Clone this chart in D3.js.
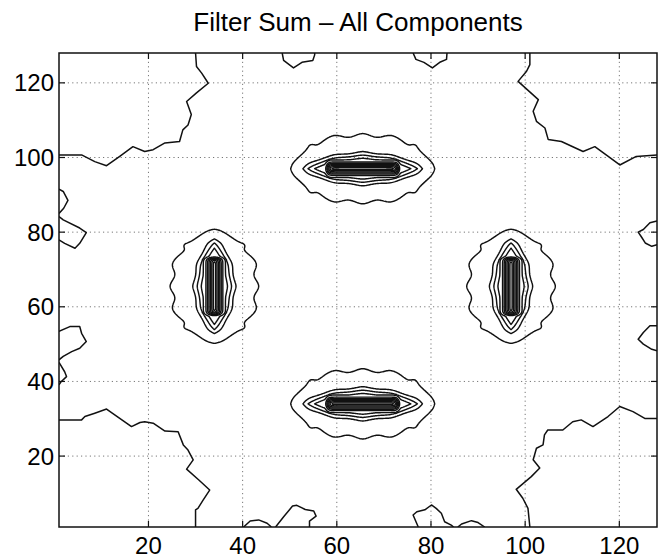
<!DOCTYPE html>
<html>
<head>
<meta charset="utf-8">
<script src="https://cdn.jsdelivr.net/npm/d3@7"></script>
<style>
  body { margin: 0; background: #fff; }
  text { font-family: "Liberation Sans", Arial, Helvetica, sans-serif; fill: #000; }
</style>
</head>
<body>
<div id="chart"></div>
<script>
// ---- data ----
var xTicks = [20, 40, 60, 80, 100, 120];
var yTicks = [20, 40, 60, 80, 100, 120];

// the four filter lobes: centre and the direction of the long axis
var blobX = [65.5, 65.5, 34, 97];
var blobY = [97, 34, 65.5, 65.5];
var blobLong = ["x", "x", "y", "y"];

// contour levels (outer rings, then the dense inner bar)
var outerLevels = [1.23e-4, 0.0101, 0.0273, 0.0672];
var barLevels = [0.32, 0.70, 1.2, 1.82, 2.43, 2.87];

// low level contour pieces near the corners and edges [x, y]
var cornerTL = [[1,100.7],[5.8,100.7],[8.6,98.9],[11.1,97.8],[13.9,100.3],[16.7,102.9],[19.2,101.6],[21,102.1],[23.5,103.9],[26.6,104.3],[27.3,107.4],[28.4,108.7],[29.1,111.5],[28.1,115],[30.2,117.3],[32.7,119.9],[31.3,122.6],[30.2,124.4],[30,128]];
var cornerTR = [[101,128],[101,124.9],[100.3,123.1],[98.5,120.4],[102.8,115.5],[101.7,112.4],[102.4,109.7],[104.2,107.9],[104.9,104.8],[107.7,104.3],[112.3,101.6],[114.8,102.9],[117.2,100.7],[120.1,98],[123.6,100.3],[128,100.7]];
var cornerBL = [[1,29.7],[5.8,29.7],[6.5,30.6],[8.6,31.5],[11.1,32.6],[13.9,30.1],[16.4,27.9],[18.2,29],[19.2,29.2],[21,28.8],[23.5,26.7],[26.3,26.5],[27.4,23],[28.4,21.6],[29.5,19],[28.1,16.5],[30.7,13.6],[33,10.9],[31.6,8.2],[30.5,6],[30,5.6],[30,1]];
var cornerBR = [[128,30.1],[125.4,30.1],[122.9,31.9],[120.1,33.3],[117.6,30.6],[114.4,27.9],[111.9,29.7],[110.1,29.2],[108,27],[104.8,27],[104.1,25.7],[103.8,23],[102.4,22.1],[101.7,19],[103.1,16.8],[101.3,14.5],[98.1,11.1],[99.5,8.7],[100.6,6],[101,1]];
var bumpB1 = [[40.2,1],[41.6,2.6],[43.4,2.9],[45.2,2.0],[46.1,1]];
var bumpB2 = [[47,1],[48.8,3.9],[50.6,6.6],[51.5,6.8],[53.3,5.7],[55.1,5.3],[55.6,3.9],[54.2,2.6],[54.2,1]];
var bumpB3 = [[77.3,1],[76.2,4.2],[77,5.1],[78.7,5.6],[80.1,6.9],[81.1,6],[82.2,4.7],[82.9,2.4],[84.3,1.5],[84.8,1]];
var bumpB4 = [[85.7,1],[86.5,1.8],[88.6,2.7],[90,2.2],[91.4,1]];
var bumpT1 = [[48.4,128],[48.7,126],[50.8,124],[52.6,125.5],[54.9,126],[55.3,127.5],[55.3,128]];
var bumpT2 = [[76.2,128],[76.8,126.3],[78.5,125.5],[80.3,124],[82,125.6],[83.3,126.3],[83.4,128]];
var bumpL1 = [[1,91.5],[1.9,90.9],[2.9,88.5],[2.0,86.4],[1,85]];
var bumpL2 = [[1,84.2],[1.9,83.3],[5.4,81.1],[6.8,79.9],[5.4,77],[4.4,75.7],[2.2,77],[1,77.9]];
var bumpL3 = [[1,53.4],[3.3,54.7],[5.4,54.7],[5.8,52.9],[6.8,50.7],[5.4,48.9],[3.7,48],[1.9,46.7],[1,45.8]];
var bumpL4 = [[1,45.1],[2.2,42.6],[2.6,41.3],[1.5,40],[1,39.1]];
var bumpR1 = [[128,83],[126.5,82.5],[125.1,80.7],[124,80],[124.6,78.9],[125.5,77.1],[126.9,76.2],[128,76.6]];
var bumpR2 = [[128,54.9],[126.5,54.9],[125.1,53.1],[124,51.3],[125.1,50],[126.9,48.6],[128,48.2]];
var edgeLines = [cornerTL, cornerTR, cornerBL, cornerBR, bumpB1, bumpB2, bumpB3, bumpB4,
                 bumpT1, bumpT2, bumpL1, bumpL2, bumpL3, bumpL4, bumpR1, bumpR2];

(function() {
  // ---- layout ----
  var W = 662, H = 558;
  var pLeft = 59, pRight = 657, pTop = 53, pBottom = 527;

  var svg = d3.select("#chart").append("svg")
      .attr("width", W).attr("height", H);

  var x = d3.scaleLinear().domain([1, 128]).range([pLeft, pRight]);
  var y = d3.scaleLinear().domain([1, 128]).range([pBottom, pTop]);

  svg.append("clipPath").attr("id", "plotClip")
    .append("rect").attr("x", pLeft).attr("y", pTop)
      .attr("width", pRight - pLeft).attr("height", pBottom - pTop);

  // grid
  var grid = svg.append("g").attr("stroke", "#777").attr("stroke-width", 1)
      .attr("stroke-dasharray", "1.2,3.2");
  xTicks.forEach(function(t) {
    grid.append("line").attr("x1", x(t)).attr("x2", x(t)).attr("y1", pTop).attr("y2", pBottom);
  });
  yTicks.forEach(function(t) {
    grid.append("line").attr("x1", pLeft).attr("x2", pRight).attr("y1", y(t)).attr("y2", y(t));
  });

  // ---- field of the four lobes on a grid ----
  var step = 0.2;
  var n = Math.round(127 / step) + 1;
  var values = new Float64Array(n * n);

  // lobe shape
  var alpha = 0.363, sLong = 4.8, bShort = 1, eps = 0.7, lam = 6;
  var K = 3, b2 = 1.2, A = 7.3, wEdge = 0.25;

  function field(px, py) {
    var best = 0;
    for (var k = 0; k < blobX.length; k++) {
      var du, dv;
      if (blobLong[k] === "x") { du = px - blobX[k]; dv = py - blobY[k]; }
      else { du = py - blobY[k]; dv = px - blobX[k]; }
      var au = Math.abs(du), av = Math.abs(dv);
      if (au > 35 || av > 35) continue;
      var c0 = alpha * (Math.exp(au / sLong) - 1) + av / bShort;
      var m = Math.min(1, (c0 / 9) * (c0 / 9));
      var c = c0 - eps * m * (Math.cos(2 * Math.PI * du / lam) + Math.sin(2 * Math.PI * av / lam));
      var fb = Math.exp(-c);
      var bar = K * Math.exp(-(dv / b2) * (dv / b2)) / (1 + Math.exp((au - A) / wEdge));
      if (fb > best) best = fb;
      if (bar > best) best = bar;
    }
    return best;
  }

  for (var j = 0; j < n; j++) {
    for (var i = 0; i < n; i++) {
      values[j * n + i] = field(1 + i * step, 1 + j * step);
    }
  }

  var levels = outerLevels.concat(barLevels);
  var contours = d3.contours().size([n, n]).thresholds(levels)(values);

  var toPixels = d3.geoTransform({
    point: function(gx, gy) {
      this.stream.point(x(1 + (gx - 0.5) * step), y(1 + (gy - 0.5) * step));
    }
  });
  var path = d3.geoPath(toPixels);

  var plot = svg.append("g").attr("clip-path", "url(#plotClip)");

  plot.selectAll("path.level")
    .data(contours)
    .enter().append("path")
      .attr("class", "level")
      .attr("d", path)
      .attr("fill", "none")
      .attr("stroke", "#111")
      .attr("stroke-width", 1.45)
      .attr("stroke-linejoin", "round");

  var line = d3.line().x(function(d) { return x(d[0]); }).y(function(d) { return y(d[1]); });
  plot.selectAll("path.edge")
    .data(edgeLines)
    .enter().append("path")
      .attr("class", "edge")
      .attr("d", line)
      .attr("fill", "none")
      .attr("stroke", "#111")
      .attr("stroke-width", 1.5)
      .attr("stroke-linejoin", "round");

  // ---- axes box, ticks, labels ----
  svg.append("rect")
    .attr("x", pLeft).attr("y", pTop)
    .attr("width", pRight - pLeft).attr("height", pBottom - pTop)
    .attr("fill", "none").attr("stroke", "#111").attr("stroke-width", 1.5);

  var tl = 6;
  var ticks = svg.append("g").attr("stroke", "#111").attr("stroke-width", 1.2);
  xTicks.forEach(function(t) {
    ticks.append("line").attr("x1", x(t)).attr("x2", x(t)).attr("y1", pBottom).attr("y2", pBottom - tl);
    ticks.append("line").attr("x1", x(t)).attr("x2", x(t)).attr("y1", pTop).attr("y2", pTop + tl);
  });
  yTicks.forEach(function(t) {
    ticks.append("line").attr("x1", pLeft).attr("x2", pLeft + tl).attr("y1", y(t)).attr("y2", y(t));
    ticks.append("line").attr("x1", pRight).attr("x2", pRight - tl).attr("y1", y(t)).attr("y2", y(t));
  });

  svg.selectAll("text.xt")
    .data(xTicks)
    .enter().append("text")
      .attr("class", "xt")
      .attr("x", function(d) { return x(d); })
      .attr("y", 554)
      .attr("text-anchor", "middle")
      .attr("font-size", 24)
      .text(function(d) { return d; });

  svg.selectAll("text.yt")
    .data(yTicks)
    .enter().append("text")
      .attr("class", "yt")
      .attr("x", pLeft - 5)
      .attr("y", function(d) { return y(d) + 8.5; })
      .attr("text-anchor", "end")
      .attr("font-size", 24)
      .text(function(d) { return d; });

  svg.append("text")
    .attr("x", (pLeft + pRight) / 2)
    .attr("y", 31)
    .attr("text-anchor", "middle")
    .attr("font-size", 26)
    .text("Filter Sum \u2013 All Components");
})();
</script>
</body>
</html>
